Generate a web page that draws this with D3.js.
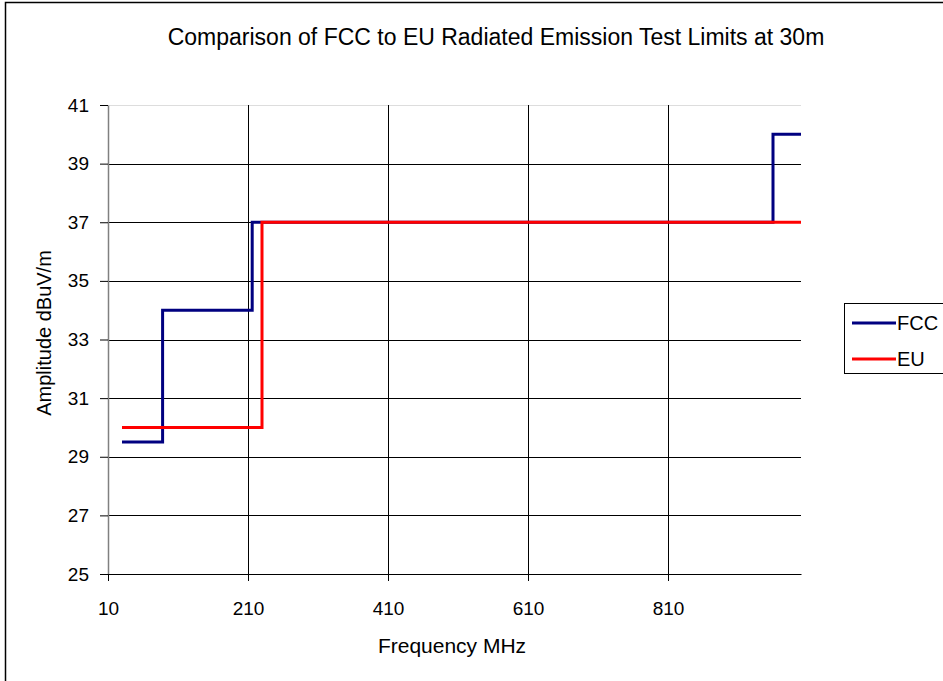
<!DOCTYPE html>
<html>
<head>
<meta charset="utf-8">
<script src="https://cdn.jsdelivr.net/npm/d3@7"></script>
<style>
  body { margin: 0; background: #fff; }
  text { font-family: "Liberation Sans", Arial, sans-serif; fill: #000; }
</style>
</head>
<body>
<div id="chart"></div>
<script>
// step limits, frequency (MHz) and level (dBuV/m)
var fccFreq = [30, 88, 88, 216, 216, 960, 960, 1000];
var fccLevel = [29.5, 29.5, 34, 34, 37, 37, 40, 40];
var euFreq = [30, 230, 230, 1000];
var euLevel = [30, 30, 37, 37];
var xTicks = [10, 210, 410, 610, 810];
var yTicks = [25, 27, 29, 31, 33, 35, 37, 39, 41];
var seriesNames = ["FCC", "EU"];
var seriesColors = ["#000080", "#ff0000"];

var svgWidth = 943, svgHeight = 681;
var margin = { top: 105, left: 108, right: 142, bottom: 107 };
var width = svgWidth - margin.left - margin.right;
var height = svgHeight - margin.top - margin.bottom;

var svg = d3.select("#chart").append("svg")
  .attr("width", svgWidth)
  .attr("height", svgHeight);

// outer chart border
svg.append("rect")
  .attr("x", 5.5).attr("y", 2.5)
  .attr("width", 960).attr("height", 700)
  .attr("fill", "none").attr("stroke", "#000").attr("stroke-width", 1.5);

svg.append("text")
  .attr("x", 496).attr("y", 45)
  .attr("text-anchor", "middle")
  .attr("font-size", "23px")
  .text("Comparison of FCC to EU Radiated Emission Test Limits at 30m");

var chartGroup = svg.append("g")
  .attr("transform", `translate(${margin.left}, ${margin.top})`);

var x = d3.scaleLinear().domain([10, 1000]).range([0, width]);
var y = d3.scaleLinear().domain([25, 41]).range([height, 0]);

// gridlines
chartGroup.selectAll(".hgrid")
  .data(yTicks.slice(1))
  .enter().append("line")
  .attr("x1", 0).attr("x2", width)
  .attr("y1", d => Math.round(y(d)) + 0.5).attr("y2", d => Math.round(y(d)) + 0.5)
  .attr("stroke", d => d === 41 ? "#ddd" : "#000");

chartGroup.selectAll(".vgrid")
  .data(xTicks.slice(1))
  .enter().append("line")
  .attr("y1", 0).attr("y2", height)
  .attr("x1", d => Math.round(x(d)) + 0.5).attr("x2", d => Math.round(x(d)) + 0.5)
  .attr("stroke", "#000");

// axes
var leftAxis = d3.axisLeft(y).tickValues(yTicks).tickSize(8).tickSizeOuter(0).tickPadding(11);
var bottomAxis = d3.axisBottom(x).tickValues(xTicks).tickSize(7).tickSizeOuter(0).tickPadding(21);

var yAxis = chartGroup.append("g").call(leftAxis);
var xAxis = chartGroup.append("g")
  .attr("transform", `translate(0, ${height})`)
  .call(bottomAxis);

[yAxis, xAxis].forEach(function(a) {
  a.select(".domain").attr("stroke", "#808080").attr("stroke-width", 1.5);
  a.selectAll(".tick line").attr("stroke", "#000");
  a.selectAll(".tick text").attr("font-size", "19px").attr("font-family", "Liberation Sans, Arial, sans-serif");
});
xAxis.select(".domain").attr("stroke", "#000").attr("stroke-width", 1);

// series
var line = d3.line().x(d => x(d[0])).y(d => y(d[1]));
var series = [
  d3.zip(fccFreq, fccLevel),
  d3.zip(euFreq, euLevel)
];

chartGroup.selectAll(".series")
  .data(series)
  .enter().append("path")
  .attr("d", line)
  .attr("fill", "none")
  .attr("stroke", (d, i) => seriesColors[i])
  .attr("stroke-width", 3);

// axis labels
svg.append("text")
  .attr("transform", `translate(51, ${333}) rotate(-90)`)
  .attr("text-anchor", "middle")
  .attr("font-size", "20px")
  .text("Amplitude dBuV/m");

svg.append("text")
  .attr("x", 452).attr("y", 653)
  .attr("text-anchor", "middle")
  .attr("font-size", "21px")
  .text("Frequency MHz");

// legend
var legend = svg.append("g").attr("transform", "translate(844, 303)");
legend.append("rect")
  .attr("x", 0.5).attr("y", 0.5)
  .attr("width", 120).attr("height", 70)
  .attr("fill", "#fff").attr("stroke", "#000");

var items = legend.selectAll(".item")
  .data(seriesNames)
  .enter().append("g")
  .attr("transform", (d, i) => `translate(0, ${20 + i * 36})`);

items.append("line")
  .attr("x1", 8).attr("x2", 52)
  .attr("stroke", (d, i) => seriesColors[i])
  .attr("stroke-width", 3);

items.append("text")
  .attr("x", 53).attr("y", 7)
  .attr("font-size", "20px")
  .text(d => d);
</script>
</body>
</html>
